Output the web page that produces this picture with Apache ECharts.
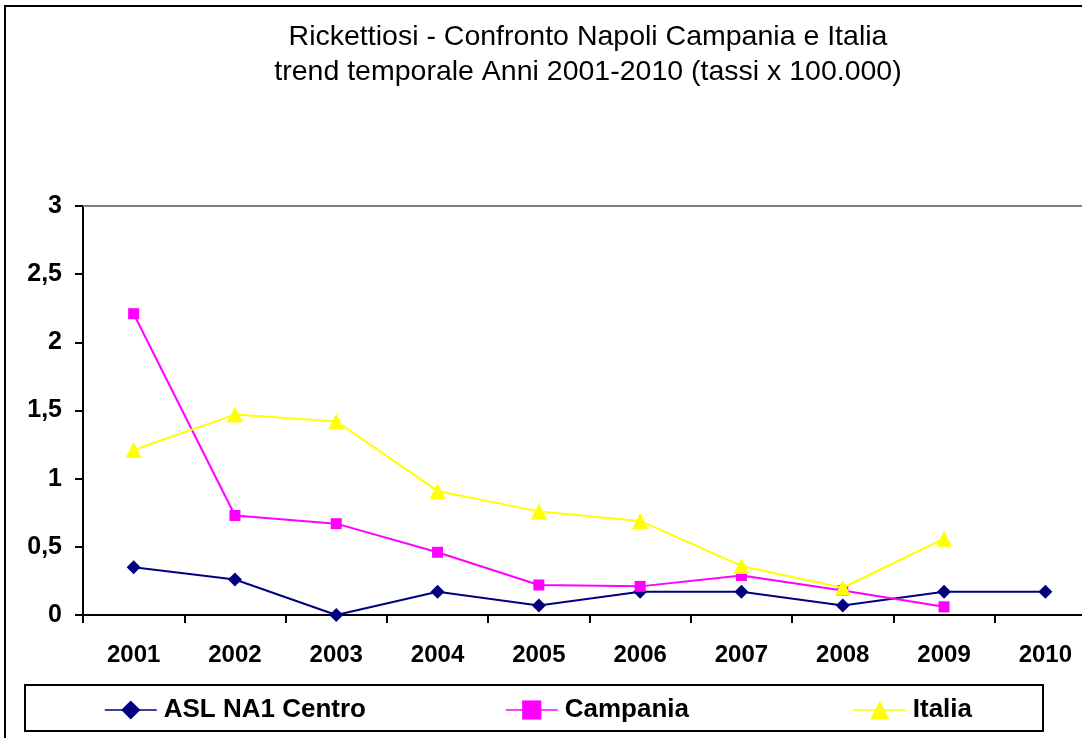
<!DOCTYPE html>
<html>
<head>
<meta charset="utf-8">
<script src="https://cdn.jsdelivr.net/npm/echarts@6/dist/echarts.min.js"></script>
<style>html,body{margin:0;padding:0;background:#fff;overflow:hidden}#c{width:1082px;height:738px}</style>
</head>
<body>
<div id="c"></div>
<script>
const titleLines = ['Rickettiosi - Confronto Napoli Campania e Italia', 'trend temporale Anni 2001-2010 (tassi x 100.000)'];
const years = ['2001','2002','2003','2004','2005','2006','2007','2008','2009','2010'];
const seriesNames = ['ASL NA1 Centro', 'Campania', 'Italia'];
const aslValues = [0.35, 0.26, 0, 0.17, 0.07, 0.17, 0.17, 0.07, 0.17, 0.17];
const campaniaValues = [2.21, 0.73, 0.67, 0.46, 0.22, 0.21, 0.29, 0.18, 0.06, null];
const italiaValues = [1.21, 1.47, 1.42, 0.91, 0.76, 0.69, 0.36, 0.20, 0.56, null];

const chart = echarts.init(document.getElementById('c'), null, {renderer: 'canvas'});
const font = 'Liberation Sans, Arial, sans-serif';
const colors = ['#000080', '#FF00FF', '#FFFF00'];
const symbols = ['diamond', 'rect', 'triangle'];
const symSizes = [14, 11, 16];
const vals = [aslValues, campaniaValues, italiaValues];
const legendLeft = [104, 505, 853];

const legendBase = {
  orient: 'horizontal', top: 697, padding: 0, itemWidth: 52, itemHeight: 24, itemGap: 0,
  textStyle: {fontFamily: font, fontSize: 26, fontWeight: 'bold', color: '#000', lineHeight: 26, padding: [0, 0, 0, 2]}
};

chart.setOption({
  animation: false,
  backgroundColor: '#fff',
  graphic: [
    {type: 'rect', shape: {x: 5, y: 6, width: 1300, height: 900}, style: {fill: 'none', stroke: '#000', lineWidth: 2}, silent: true, z: -1},
    {type: 'rect', shape: {x: 25, y: 685, width: 1018, height: 46}, style: {fill: '#fff', stroke: '#000', lineWidth: 2}, silent: true, z: 0},
    {type: 'text', x: 588, y: 20, style: {text: titleLines.join('\n'), font: '28.5px ' + font, fill: '#000', align: 'center', verticalAlign: 'top', lineHeight: 35}, silent: true}
  ],
  legend: seriesNames.map((n, i) => Object.assign({}, legendBase, {left: legendLeft[i], data: [n], z: 5,
    itemStyle: {}, lineStyle: {width: 1.5}})),
  grid: {left: 83, top: 206, width: 1013, height: 409, containLabel: false, outerBoundsMode: 'none'},
  xAxis: [{
    type: 'category', data: years, boundaryGap: true, position: 'bottom',
    axisLine: {show: true, lineStyle: {color: '#000', width: 2}},
    axisTick: {show: true, interval: 0, length: 8, lineStyle: {color: '#000', width: 2}},
    axisLabel: {interval: 0, margin: 28, fontFamily: font, fontSize: 24, fontWeight: 'bold', color: '#000'},
    splitLine: {show: false}
  }, {
    type: 'category', data: years, boundaryGap: true, position: 'top',
    axisLine: {show: true, lineStyle: {color: '#808080', width: 2}},
    axisTick: {show: false}, axisLabel: {show: false}, splitLine: {show: false}
  }],
  yAxis: {
    type: 'value', min: 0, max: 3, interval: 0.5,
    axisLine: {show: true, lineStyle: {color: '#000', width: 2}},
    axisTick: {show: true, length: 8, lineStyle: {color: '#000', width: 2}},
    axisLabel: {margin: 21, fontFamily: font, fontSize: 25, fontWeight: 'bold', color: '#000',
      formatter: v => String(v).replace('.', ',')},
    splitLine: {show: false}
  },
  series: seriesNames.map((n, i) => ({
    name: n, type: 'line', data: vals[i], xAxisIndex: 0,
    symbol: symbols[i], symbolSize: symSizes[i], showSymbol: true,
    connectNulls: false,
    lineStyle: {color: colors[i], width: 2},
    itemStyle: {color: colors[i], borderWidth: 0},
    emphasis: {disabled: true},
    z: 3 + i
  }))
});
</script>
</body>
</html>
